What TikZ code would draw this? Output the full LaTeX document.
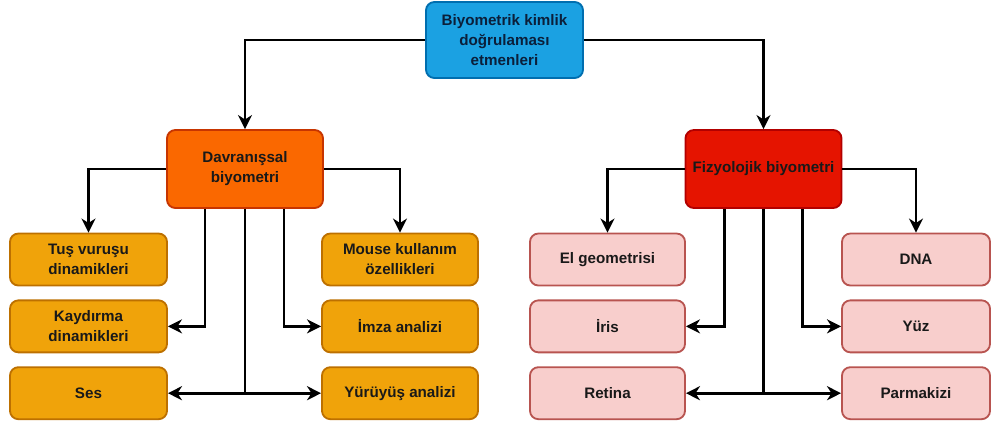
\documentclass[tikz,border=0pt]{standalone}
\usepackage{fontspec}
\setmainfont{Liberation Sans}
\usepackage{tikz}
\usetikzlibrary{arrows.meta,positioning}
\definecolor{RootBlue}{HTML}{1BA1E2}
\definecolor{RootEdge}{HTML}{006EAF}
\definecolor{RootText}{HTML}{0B1F3A}
\definecolor{BehOrange}{HTML}{FA6800}
\definecolor{BehEdge}{HTML}{C73500}
\definecolor{PhyRed}{HTML}{E51400}
\definecolor{PhyEdge}{HTML}{B20000}
\definecolor{LeafAmber}{HTML}{F0A30A}
\definecolor{AmberEdge}{HTML}{BD7000}
\definecolor{LeafPink}{HTML}{F8CECC}
\definecolor{PinkEdge}{HTML}{B85450}

\begin{document}
\begin{tikzpicture}[x=0.025cm,y=-0.025cm,node distance=3.25mm,
  box/.style={draw,line width=1.3pt,rounded corners=6pt,align=center,
    font=\fontsize{10.8}{14.2}\selectfont\bfseries,text=black!90},
  group/.style={box,minimum width=3.9cm,minimum height=1.95cm},
  leaf/.style={box,minimum width=3.9cm,minimum height=1.3cm},
  link/.style={line width=1.9pt,-{Stealth[length=10pt,width=10pt,inset=3.2pt]}}]
\useasboundingbox (0,0) rectangle (993,423);

% top level
\node[box,fill=RootBlue,draw=RootEdge,text=RootText,
      minimum width=3.925cm,minimum height=1.9cm] (root) at (504.5,40)
  {Biyometrik kimlik\\doğrulaması\\etmenleri};

% the two families
\node[group,fill=BehOrange,draw=BehEdge] (dav) at (245,169) {Davranışsal\\biyometri};
\node[group,fill=PhyRed,draw=PhyEdge] (fiz) at (763.5,169) {Fizyolojik biyometri};

% behavioural leaves
\node[leaf,fill=LeafAmber,draw=AmberEdge,minimum width=3.925cm] (tus) at (88.5,259.5) {Tuş vuruşu\\dinamikleri};
\node[leaf,fill=LeafAmber,draw=AmberEdge,minimum width=3.925cm,below=of tus] (kay) {Kaydırma\\dinamikleri};
\node[leaf,fill=LeafAmber,draw=AmberEdge,minimum width=3.925cm,below=of kay] (ses) {Ses};
\node[leaf,fill=LeafAmber,draw=AmberEdge] (mouse) at (400,259.5) {Mouse kullanım\\özellikleri};
\node[leaf,fill=LeafAmber,draw=AmberEdge,below=of mouse] (imza) {İmza analizi};
\node[leaf,fill=LeafAmber,draw=AmberEdge,below=of imza] (yur) {Yürüyüş analizi};

% physiological leaves
\node[leaf,fill=LeafPink,draw=PinkEdge,minimum width=3.875cm] (el) at (607.5,259.5) {El geometrisi};
\node[leaf,fill=LeafPink,draw=PinkEdge,minimum width=3.875cm,below=of el] (iris) {İris};
\node[leaf,fill=LeafPink,draw=PinkEdge,minimum width=3.875cm,below=of iris] (ret) {Retina};
\node[leaf,fill=LeafPink,draw=PinkEdge,minimum width=3.7cm] (dna) at (916,259.5) {DNA};
\node[leaf,fill=LeafPink,draw=PinkEdge,minimum width=3.7cm,below=of dna] (yuz) {Yüz};
\node[leaf,fill=LeafPink,draw=PinkEdge,minimum width=3.7cm,below=of yuz] (parm) {Parmakizi};

% connectors
\draw[link] (root.west) -| (dav.north);
\draw[link] (root.east) -| (fiz.north);

\draw[link] (dav.west) -| (tus.north);
\draw[link] (dav.east) -| (mouse.north);
\draw[link] ([xshift=-1cm]dav.south) |- (kay.east);
\draw[link] ([xshift=0.975cm]dav.south) |- (imza.west);
\draw[link] (dav.south) |- (ses.east);
\draw[link] (dav.south) |- (yur.west);

\draw[link] (fiz.west) -| (el.north);
\draw[link] (fiz.east) -| (dna.north);
\draw[link] ([xshift=-0.975cm]fiz.south) |- (iris.east);
\draw[link] ([xshift=0.975cm]fiz.south) |- (yuz.west);
\draw[link] (fiz.south) |- (ret.east);
\draw[link] (fiz.south) |- (parm.west);
\end{tikzpicture}
\end{document}
